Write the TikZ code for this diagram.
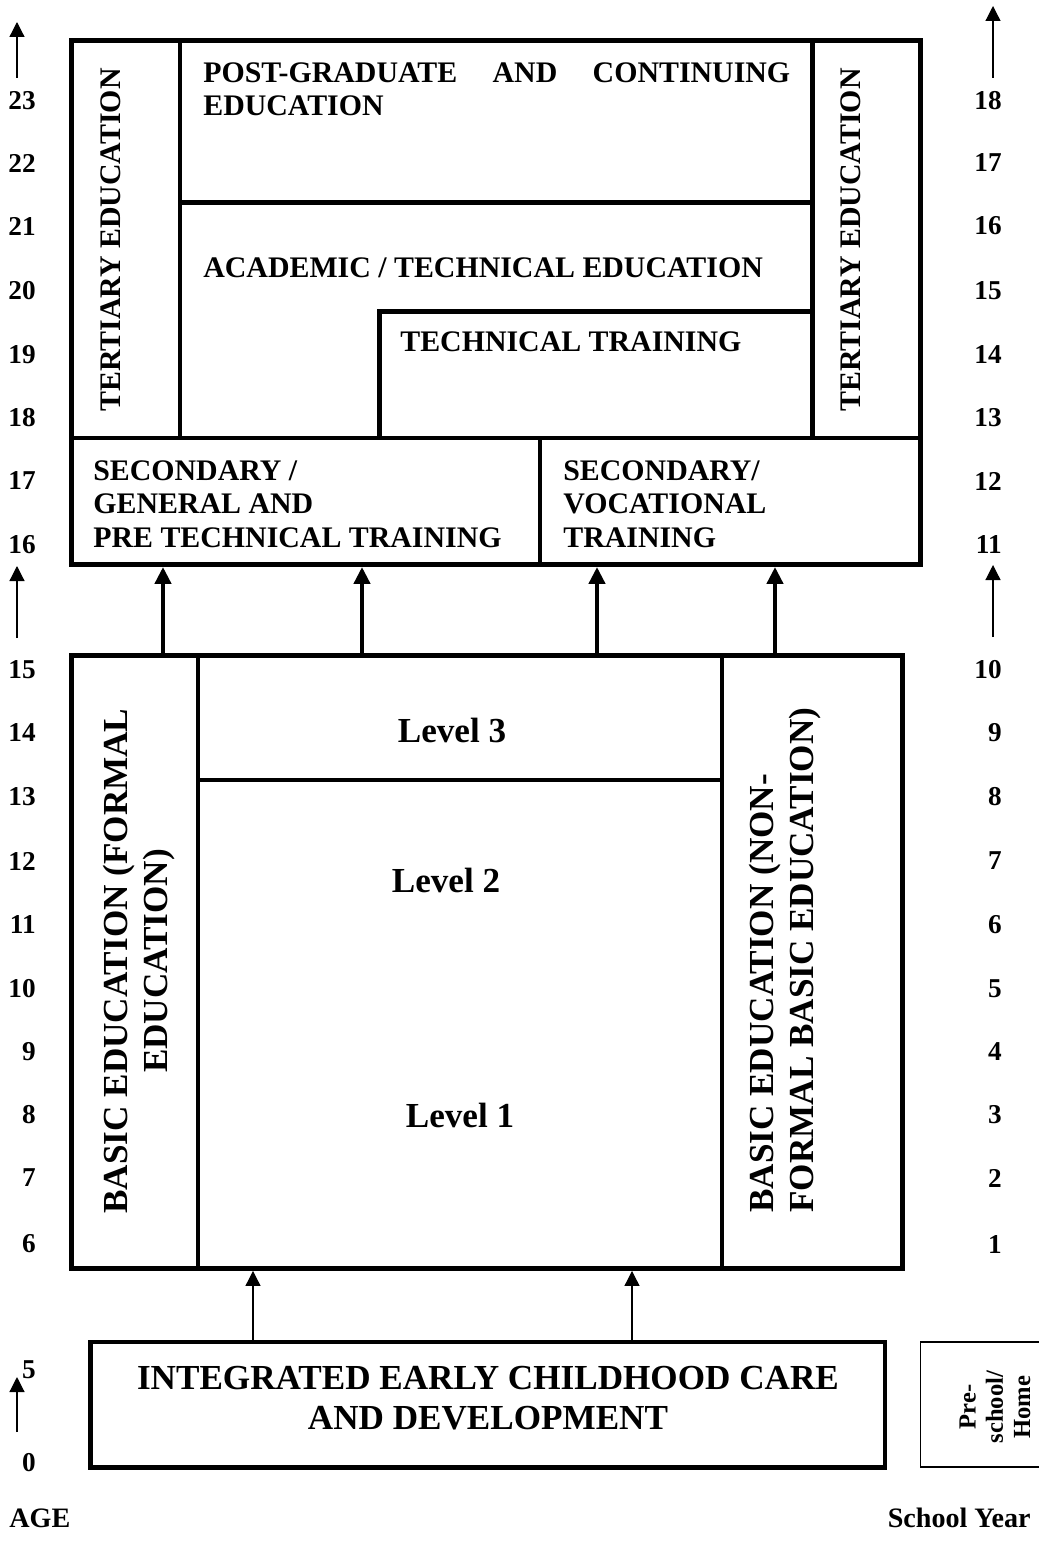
\documentclass[tikz,border=0pt]{standalone}
\usepackage{fontspec}
\setmainfont{Liberation Serif}
\usepackage{tikz}
\usetikzlibrary{positioning, arrows.meta, fit, shapes}
\tikzstyle{box} = [rectangle, draw=black, line width=2.8pt, inner sep=0pt]
\tikzstyle{thinbox} = [rectangle, draw=black, line width=1pt, inner sep=0pt]
\tikzstyle{arrow} = [line width=2.8pt, -{Triangle[length=0.34cm, width=0.32cm]}]
\tikzstyle{thinarrow} = [line width=0.7pt, -{Triangle[length=0.3cm, width=0.3cm]}]
\tikzstyle{boxtext} = [inner sep=0pt, font=\fontsize{17}{19}\selectfont\bfseries]
\tikzstyle{bigtext} = [inner sep=0pt, font=\fontsize{20}{23}\selectfont\bfseries]
\tikzstyle{smalltext} = [inner sep=0pt, font=\fontsize{14}{15.5}\selectfont\bfseries]
\tikzstyle{num} = [inner sep=0pt, anchor=east, font=\fontsize{15.5}{18}\selectfont\bfseries]

\begin{document}
\begin{tikzpicture}[x=0.02cm, y=-0.02cm]
\useasboundingbox (0,0) rectangle (1038,1541);

% upper block
\node (tertl) [box, fit={(71.5,40.5) (180,438)}] {};
\node (tertr) [box, fit={(812.5,40.5) (920.5,438)}] {};
\node (pgrad) [box, fit={(180,40.5) (812.5,202.5)}] {};
\node (acad) [box, fit={(180,202.5) (812.5,438)}] {};
\node (tech) [box, fit={(379.5,311.5) (812.5,438)}] {};
\node (secgen) [box, fit={(71.5,438) (540,564.5)}] {};
\node (secvoc) [box, fit={(540,438) (920.5,564.5)}] {};

\node (tertltext) [boxtext, rotate=90] at (111,240) {TERTIARY EDUCATION};
\node (tertrtext) [boxtext, rotate=90] at (851,240) {TERTIARY EDUCATION};
\node (pgradtext) [boxtext, anchor=north west, text width=11.74cm, align=left] at (203,62) {POST-GRADUATE\hfill AND\hfill CONTINUING\\EDUCATION};
\node (acadtext) [boxtext, anchor=west] at (203,268) {ACADEMIC / TECHNICAL EDUCATION};
\node (techtext) [boxtext, anchor=west] at (400,342) {TECHNICAL TRAINING};
\node (secgentext) [boxtext, anchor=west, align=left] at (93,504) {SECONDARY /\\GENERAL AND\\PRE TECHNICAL TRAINING};
\node (secvoctext) [boxtext, anchor=west, align=left] at (563,504) {SECONDARY/\\VOCATIONAL\\TRAINING};

% basic block
\node (basicf) [box, fit={(71.5,655.5) (198,1268.5)}] {};
\node (levels) [box, fit={(198,655.5) (722,1268.5)}] {};
\node (level3) [box, fit={(198,655.5) (722,780)}] {};
\node (basicnf) [box, fit={(722,655.5) (902.5,1268.5)}] {};

\node (basicftext) [bigtext, rotate=90, align=center] at (139,961) {BASIC EDUCATION (FORMAL\\EDUCATION)};
\node (basicnftext) [bigtext, rotate=90, align=left, anchor=west] at (785,1213) {BASIC EDUCATION (NON-\\FORMAL BASIC EDUCATION)};
\node (lvthree) [bigtext] at (452,730) {Level 3};
\node (lvtwo) [bigtext] at (446,880) {Level 2};
\node (lvone) [bigtext] at (460,1115) {Level 1};

% early childhood
\node (ecd) [box, fit={(90.5,1342) (885,1467.5)}] {};
\node (ecdtext) [bigtext, align=center] at (488,1398) {INTEGRATED EARLY CHILDHOOD CARE\\AND DEVELOPMENT};
\node (presch) [thinbox, fit={(920.5,1342) (1050,1467)}] {};
\node (preschtext) [smalltext, rotate=90, align=center] at (995,1407) {Pre-\\school/\\Home};

% connectors
\coordinate (c1) at (163,0);
\coordinate (c2) at (362,0);
\coordinate (c3) at (597,0);
\coordinate (c4) at (775,0);
\coordinate (d1) at (253,0);
\coordinate (d2) at (632,0);
\draw [arrow] (basicf.north -| c1) -- (secgen.south -| c1);
\draw [arrow] (levels.north -| c2) -- (secgen.south -| c2);
\draw [arrow] (levels.north -| c3) -- (secvoc.south -| c3);
\draw [arrow] (basicnf.north -| c4) -- (secvoc.south -| c4);
\draw [thinarrow] (ecd.north -| d1) -- (levels.south -| d1);
\draw [thinarrow] (ecd.north -| d2) -- (levels.south -| d2);

% age and school year
\foreach \a/\s/\y in {23/18/101, 22/17/163, 21/16/226, 20/15/291, 19/14/355, 18/13/418, 17/12/481, 16/11/545, 15/10/670, 14/9/733, 13/8/797, 12/7/861, 11/6/925, 10/5/989, 9/4/1052, 8/3/1115, 7/2/1178, 6/1/1244}
{
    \node (age\a) [num] at (36,\y) {\a};
    \node (yr\s) [num] at (1002,\y) {\s};
}
\node (agefive) [num] at (36,1370) {5};
\node (agezero) [num] at (36,1463) {0};
\node (agelabel) [num, anchor=west, font=\fontsize{16}{18}\selectfont\bfseries] at (9,1518) {AGE};
\node (yrlabel) [num, font=\fontsize{16}{18}\selectfont\bfseries] at (1031,1518) {School Year};

\coordinate (la1) at (17,78);   \coordinate (la2) at (17,22);
\coordinate (ra1) at (993,78);  \coordinate (ra2) at (993,6);
\coordinate (lb1) at (17,638);  \coordinate (lb2) at (17,566);
\coordinate (rb1) at (993,637); \coordinate (rb2) at (993,565);
\coordinate (lc1) at (17,1432); \coordinate (lc2) at (17,1377);
\draw [thinarrow] (la1) -- (la2);
\draw [thinarrow] (ra1) -- (ra2);
\draw [thinarrow] (lb1) -- (lb2);
\draw [thinarrow] (rb1) -- (rb2);
\draw [thinarrow] (lc1) -- (lc2);
\end{tikzpicture}
\end{document}
